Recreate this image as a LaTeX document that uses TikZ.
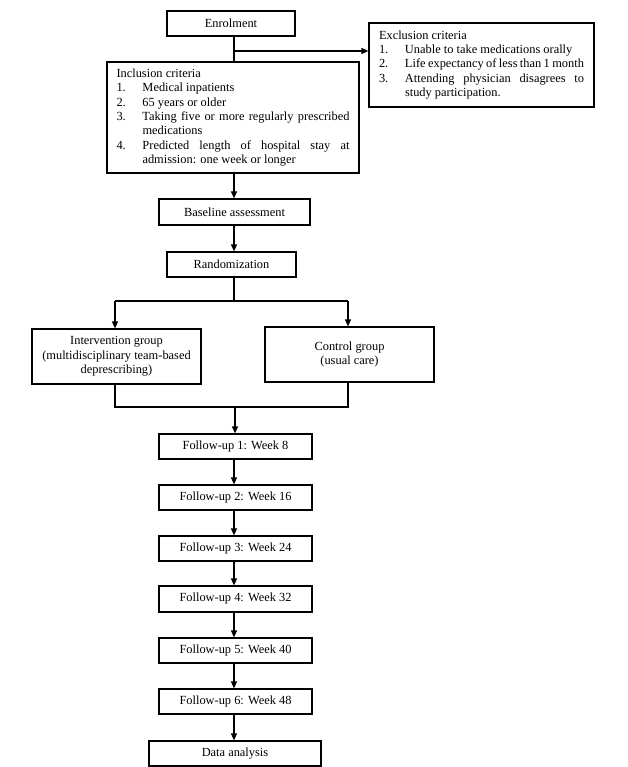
\documentclass[tikz,border=0pt]{standalone}
\usepackage{fontspec}
\setmainfont{Liberation Serif}
\usetikzlibrary{arrows.meta}
\begin{document}
\begin{tikzpicture}[x=1pt,y=-1pt,
  box/.style={draw=black,line width=1.2pt,fill=white,inner sep=0pt,align=center,font=\fontsize{12.4}{14.3}\selectfont},
  conn/.style={draw=black,line width=1.2pt},
  arr/.style={conn,-{Triangle[width=6pt,length=7pt]}}]
\useasboundingbox (0,0) rectangle (628,767);
\fill[white] (0,0) rectangle (628,767);
\coordinate (ax) at (234,0);
\coordinate (axl) at (115,0);
\coordinate (axr) at (348,0);
\node[box,minimum width=128pt,minimum height=25pt] (enrol) at (231,23.5) {Enrolment};
\node[box,minimum width=252pt,minimum height=111pt,text width=233pt,align=justify] (incl) at (233,117.5) {%
Inclusion criteria\par
\hangindent=26pt\hangafter=1\noindent\makebox[26pt][l]{1.}Medical inpatients\par
\hangindent=26pt\hangafter=1\noindent\makebox[26pt][l]{2.}65 years or older\par
\hangindent=26pt\hangafter=1\noindent\makebox[26pt][l]{3.}Taking five or more regularly prescribed\linebreak medications\par
\hangindent=26pt\hangafter=1\noindent\makebox[26pt][l]{4.}Predicted length of hospital stay at\linebreak admission: one week or longer\par};
\node[box,minimum width=225pt,minimum height=84pt,text width=205pt,align=justify] (excl) at (481.5,65) {%
Exclusion criteria\par
\hangindent=26pt\hangafter=1\noindent\makebox[26pt][l]{1.}Unable to take medications orally\par
\hangindent=26pt\hangafter=1\noindent\makebox[26pt][l]{2.}Life expectancy of less than 1 month\par
\hangindent=26pt\hangafter=1\noindent\makebox[26pt][l]{3.}Attending physician disagrees to\linebreak study participation.\par};
\node[box,minimum width=151pt,minimum height=26pt] (base) at (234.5,212) {Baseline assessment};
\node[box,minimum width=129pt,minimum height=25pt] (rand) at (231.5,264.5) {Randomization};
\node[box,minimum width=169pt,minimum height=55pt] (inter) at (116.5,356.5) {Intervention group\\(multidisciplinary team-based\\deprescribing)};
\node[box,minimum width=169pt,minimum height=55pt] (ctrl) at (349.5,354.5) {Control group\\(usual care)};
\node[box,minimum width=153pt,minimum height=25pt] (f1) at (235.5,446.5) {Follow-up 1: Week 8};
\node[box,minimum width=153pt,minimum height=25pt] (f2) at (235.5,497.5) {Follow-up 2: Week 16};
\node[box,minimum width=153pt,minimum height=25pt] (f3) at (235.5,548.5) {Follow-up 3: Week 24};
\node[box,minimum width=153pt,minimum height=26pt] (f4) at (235.5,599) {Follow-up 4: Week 32};
\node[box,minimum width=153pt,minimum height=25pt] (f5) at (235.5,650.5) {Follow-up 5: Week 40};
\node[box,minimum width=153pt,minimum height=25pt] (f6) at (235.5,701.5) {Follow-up 6: Week 48};
\node[box,minimum width=172pt,minimum height=25pt] (da) at (235,753.5) {Data analysis};
\coordinate (br1) at (234,51);
\draw[conn] (enrol.south -| ax) -- (incl.north -| ax);
\draw[arr] (br1) -- (br1 -| excl.west);
\draw[arr] (incl.south -| ax) -- (base.north -| ax);
\draw[arr] (base.south -| ax) -- (rand.north -| ax);
\coordinate (sp) at (234,301);
\draw[conn] (rand.south -| ax) -- (sp);
\draw[arr] (sp -| axl) -- (inter.north -| axl);
\draw[arr] (sp -| axr) -- (ctrl.north -| axr);
\draw[conn] (sp -| axl) -- (sp -| axr);
\coordinate (jn) at (235,407);
\draw[conn] (inter.south -| axl) -- (jn -| axl) -- (jn -| axr) -- (ctrl.south -| axr);
\draw[arr] (jn) -- (f1.north -| jn);
\draw[arr] (f1.south -| ax) -- (f2.north -| ax);
\draw[arr] (f2.south -| ax) -- (f3.north -| ax);
\draw[arr] (f3.south -| ax) -- (f4.north -| ax);
\draw[arr] (f4.south -| ax) -- (f5.north -| ax);
\draw[arr] (f5.south -| ax) -- (f6.north -| ax);
\draw[arr] (f6.south -| ax) -- (da.north -| ax);
\end{tikzpicture}
\end{document}
